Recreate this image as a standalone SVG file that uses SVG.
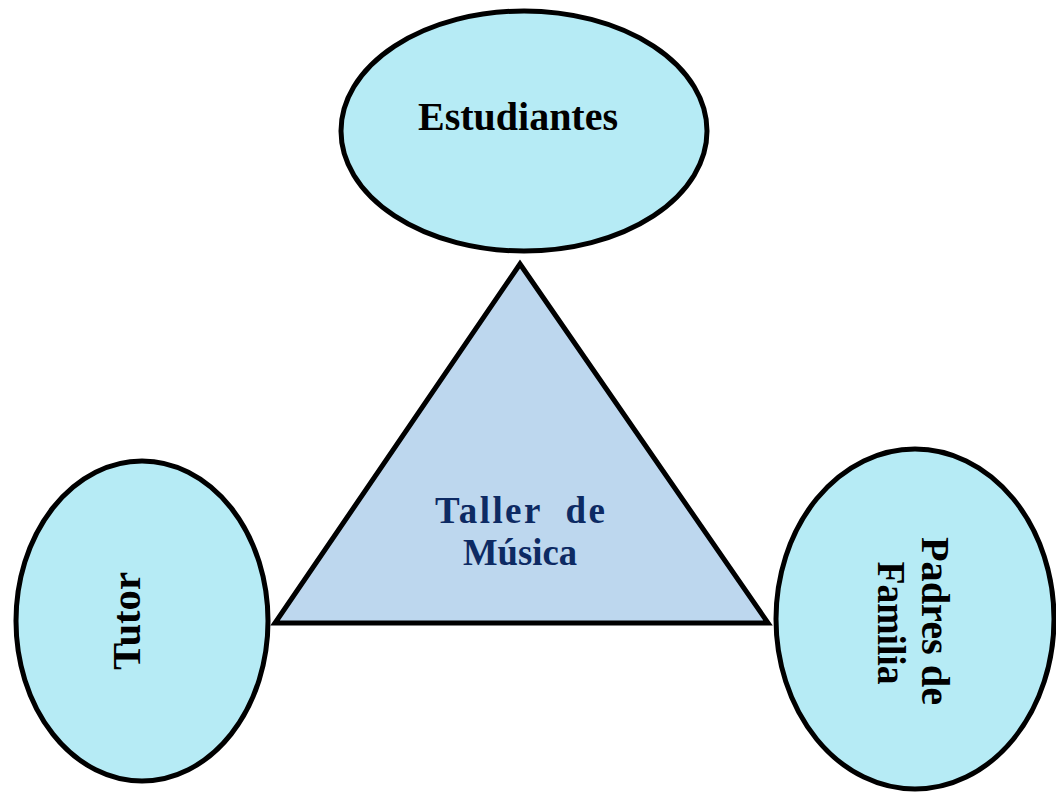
<svg xmlns="http://www.w3.org/2000/svg" width="1056" height="792" viewBox="0 0 1056 792">
<style>
.oval{fill:#B6EBF5;stroke:#000;stroke-width:5}
.tri{fill:#BDD7EE;stroke:#000;stroke-width:5;stroke-linejoin:miter}
.lbl{font-family:"Liberation Serif","DejaVu Serif",serif;font-weight:bold;font-size:40px;fill:#000;text-anchor:middle}
.ctr{font-family:"Liberation Serif","DejaVu Serif",serif;font-weight:bold;font-size:37px;fill:#0D2A63;text-anchor:middle}
</style>
<rect width="1056" height="792" fill="#fff"/>
<g id="connectors"></g>
<g id="estudiantes">
<ellipse class="oval" cx="524" cy="131" rx="183" ry="120"/>
<text class="lbl" x="518" y="130" textLength="200" lengthAdjust="spacingAndGlyphs">Estudiantes</text>
</g>
<g id="tutor">
<ellipse class="oval" cx="142" cy="621" rx="126" ry="160"/>
<text class="lbl" transform="translate(140,621) rotate(-90)" x="0" y="0" textLength="98" lengthAdjust="spacingAndGlyphs">Tutor</text>
</g>
<g id="padres">
<ellipse class="oval" cx="915" cy="619" rx="139" ry="170"/>
<text class="lbl" transform="translate(922,621) rotate(90)" x="0" y="0" textLength="168" lengthAdjust="spacingAndGlyphs">Padres de</text>
<text class="lbl" transform="translate(878,623) rotate(90)" x="0" y="0" textLength="123" lengthAdjust="spacingAndGlyphs">Familia</text>
</g>
<g id="taller">
<polygon class="tri" points="520,264 275,623 768,623"/>
<text class="ctr" x="520" y="523" xml:space="preserve" textLength="170" lengthAdjust="spacing">Taller  de</text>
<text class="ctr" x="520" y="565" textLength="114" lengthAdjust="spacingAndGlyphs">Música</text>
</g>
</svg>
